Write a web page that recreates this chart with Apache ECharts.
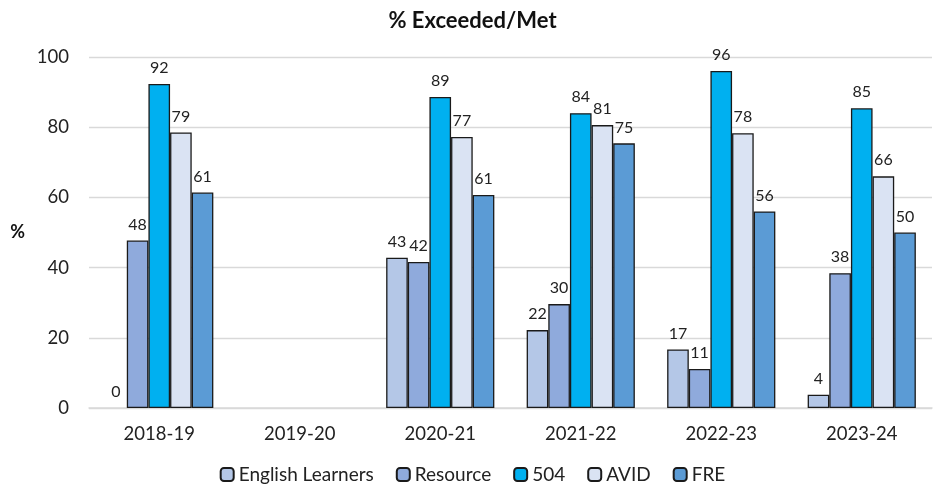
<!DOCTYPE html>
<html>
<head>
<meta charset="utf-8">
<script src="https://cdn.jsdelivr.net/npm/echarts@6/dist/echarts.min.js"></script>
<style>
  html, body { margin: 0; padding: 0; background: #fff; }
  #chart { width: 945px; height: 491px; }
</style>
</head>
<body>
<div id="chart"></div>
<script>
var years = ['2018-19', '2019-20', '2020-21', '2021-22', '2022-23', '2023-24']
var englishLearners = [0, null, 42.8, 22.2, 16.7, 3.8]
var resource = [47.7, null, 41.6, 29.6, 11.1, 38.4]
var s504 = [92.3, null, 88.6, 84.0, 96.0, 85.4]
var avid = [78.5, null, 77.2, 80.6, 78.3, 66.0]
var fre = [61.4, null, 60.7, 75.4, 56.0, 50.0]
var yTicks = [0, 20, 40, 60, 80, 100]

var font = 'Lato, "Open Sans", sans-serif'

function makeSeries(name, data, color) {
  return {
    name: name,
    type: 'bar',
    // zero-height bars draw no outline in the original
    data: data.map(function (v) {
      return v === 0 ? { value: 0, itemStyle: { borderWidth: 0 } } : v
    }),
    barGap: '0%',
    barCategoryGap: '23%',
    itemStyle: { color: color, borderColor: '#1a1a1a', borderWidth: 1.3 },
    label: {
      show: true,
      position: 'top',
      distance: 8,
      color: '#222',
      fontSize: 16,
      fontFamily: font,
      formatter: function (p) { return p.value == null ? '' : Math.round(p.value) }
    }
  }
}

var myChart = echarts.init(document.getElementById('chart'))
var option = {
  backgroundColor: '#fff',
  animation: false,
  title: {
    text: '% Exceeded/Met',
    left: 'center',
    top: 5,
    textStyle: { fontSize: 22, fontWeight: 'bold', color: '#111', fontFamily: font }
  },
  grid: { left: 89, right: 13, top: 57, bottom: 83 },
  legend: {
    bottom: 2,
    left: 'center',
    itemWidth: 13,
    itemHeight: 13,
    itemGap: 22,
    textStyle: { fontSize: 19, color: '#222', fontFamily: font },
    data: ['English Learners', 'Resource', '504', 'AVID', 'FRE']
  },
  xAxis: {
    type: 'category',
    data: years,
    axisLine: { lineStyle: { color: '#d9d9d9', width: 1.5 } },
    axisTick: { show: false },
    axisLabel: { fontSize: 18.5, color: '#222', fontFamily: font, margin: 17 }
  },
  yAxis: {
    type: 'value',
    min: yTicks[0],
    max: yTicks[yTicks.length - 1],
    interval: 20,
    name: '%',
    nameLocation: 'middle',
    nameRotate: 0,
    nameGap: 64,
    nameTextStyle: { fontSize: 18, fontWeight: 'bold', color: '#111', fontFamily: font },
    axisLabel: { fontSize: 18.5, color: '#222', fontFamily: font, margin: 20 },
    splitLine: { lineStyle: { color: '#d9d9d9', width: 1.3 } },
    axisLine: { show: false },
    axisTick: { show: false }
  },
  series: [
    makeSeries('English Learners', englishLearners, '#b4c7e7'),
    makeSeries('Resource', resource, '#8faadc'),
    makeSeries('504', s504, '#00b0f0'),
    makeSeries('AVID', avid, '#dae3f3'),
    makeSeries('FRE', fre, '#5b9bd5')
  ]
}
option && myChart.setOption(option)
</script>
</body>
</html>
